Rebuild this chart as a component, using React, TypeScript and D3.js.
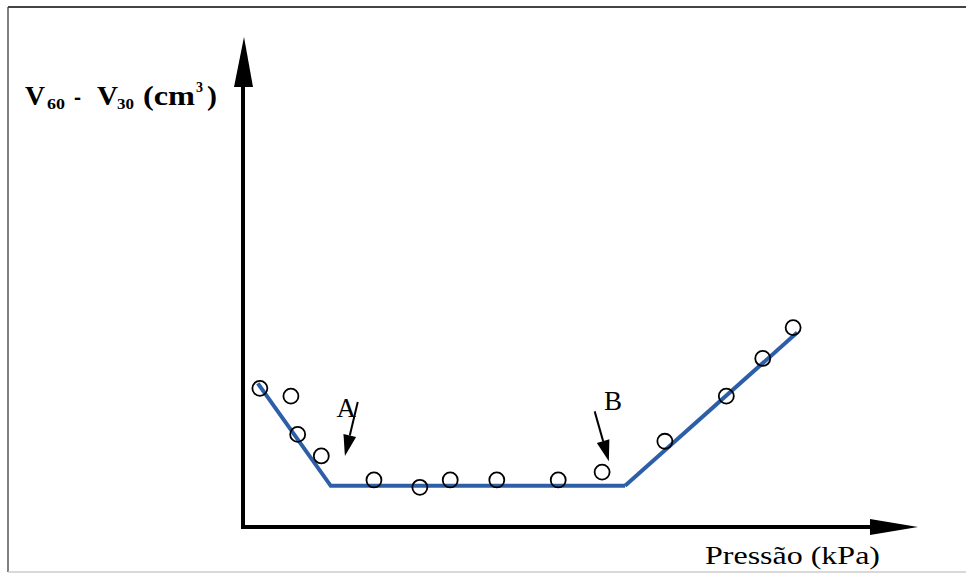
import React, { useEffect, useRef } from "react";
import * as d3 from "d3";

// measured points, pressure (arbitrary units) vs V60 - V30
const pressure = [2.5, 7.1, 8.1, 11.6, 19.4, 26.2, 30.7, 37.6, 46.7, 53.2, 62.5, 71.6, 77.0, 81.5];
const volumeDiff = [28.3, 26.7, 18.9, 14.5, 9.6, 8.1, 9.6, 9.6, 9.6, 11.2, 17.5, 26.7, 34.4, 40.7];

// fitted trend (blue): first two segments joined, third one separate
const fitX = [2.2, 13.0, 56.6, 82.1];
const fitY = [29.3, 8.4, 8.4, 39.7];

// annotations A and B
const markLabels = ["A", "B"];
const markText = [
  [15.3, 22.4],
  [54.8, 23.8],
];
const markArrowFrom = [
  [17.0, 25.5],
  [52.1, 23.6],
];
const markArrowTo = [
  [15.1, 14.5],
  [54.2, 13.4],
];

const SERIF = "Liberation Serif";

const App = () => {
  const ref = useRef<SVGSVGElement>(null);

  useEffect(() => {
    const svg = d3.select(ref.current);
    svg.selectAll("*").remove();

    const width = 966;
    const height = 575;
    const origin = { x: 243, y: 527 };
    const xEnd = 918;
    const yEnd = 37;

    const x = d3.scaleLinear().domain([0, 100]).range([origin.x, xEnd]);
    const y = d3.scaleLinear().domain([0, 100]).range([origin.y, yEnd]);

    svg.attr("width", width).attr("height", height);
    svg.append("rect").attr("width", width).attr("height", height).attr("fill", "#fff");

    // frame
    svg.append("line").attr("x1", 8).attr("x2", 8).attr("y1", 7).attr("y2", 572)
      .attr("stroke", "#555").attr("stroke-width", 1.5);
    svg.append("line").attr("x1", 8).attr("x2", width).attr("y1", 7).attr("y2", 7)
      .attr("stroke", "#444").attr("stroke-width", 2);
    svg.append("line").attr("x1", 8).attr("x2", width).attr("y1", 572).attr("y2", 572)
      .attr("stroke", "#ccc").attr("stroke-width", 1.5);

    // axes with arrow heads
    svg.append("line")
      .attr("x1", origin.x).attr("x2", origin.x).attr("y1", origin.y + 2).attr("y2", yEnd + 40)
      .attr("stroke", "#000").attr("stroke-width", 4);
    svg.append("path")
      .attr("d", `M${origin.x - 9},${yEnd + 50}L${origin.x + 1},${yEnd}L${origin.x + 10},${yEnd + 50}Z`)
      .attr("fill", "#000");
    svg.append("line")
      .attr("x1", origin.x - 2).attr("x2", xEnd - 40).attr("y1", origin.y).attr("y2", origin.y)
      .attr("stroke", "#000").attr("stroke-width", 4);
    svg.append("path")
      .attr("d", `M${xEnd - 48},${origin.y - 8}L${xEnd},${origin.y}L${xEnd - 48},${origin.y + 8}Z`)
      .attr("fill", "#000");

    // fitted lines
    const pts = fitX.map((v, i) => [v, fitY[i]] as [number, number]);
    const line = d3.line<[number, number]>().x((d) => x(d[0])).y((d) => y(d[1]));
    svg.append("path")
      .attr("d", line(pts.slice(0, 3)))
      .attr("fill", "none").attr("stroke", "#2c5fa8").attr("stroke-width", 4);
    svg.append("path")
      .attr("d", line(pts.slice(2, 4)))
      .attr("fill", "none").attr("stroke", "#2c5fa8").attr("stroke-width", 4);

    // data circles
    svg.selectAll(".pt")
      .data(pressure.map((p, i) => ({ p, v: volumeDiff[i] })))
      .enter()
      .append("circle")
      .attr("class", "pt")
      .attr("cx", (d) => x(d.p))
      .attr("cy", (d) => y(d.v))
      .attr("r", 7.5)
      .attr("fill", "none")
      .attr("stroke", "#000")
      .attr("stroke-width", 1.8);

    // annotations
    markLabels.forEach((lab, i) => {
      svg.append("text")
        .attr("x", x(markText[i][0])).attr("y", y(markText[i][1]))
        .attr("text-anchor", "middle")
        .style("font-family", SERIF)
        .style("font-size", "27px")
        .text(lab);
      const x1 = x(markArrowFrom[i][0]), y1 = y(markArrowFrom[i][1]);
      const x2 = x(markArrowTo[i][0]), y2 = y(markArrowTo[i][1]);
      const ang = Math.atan2(y2 - y1, x2 - x1);
      const hl = 21, hw = 6.5;
      const bx = x2 - hl * Math.cos(ang), by = y2 - hl * Math.sin(ang);
      svg.append("line")
        .attr("x1", x1).attr("y1", y1).attr("x2", bx).attr("y2", by)
        .attr("stroke", "#000").attr("stroke-width", 2);
      svg.append("path")
        .attr("d", `M${x2},${y2}L${bx + hw * Math.sin(ang)},${by - hw * Math.cos(ang)}L${bx - hw * Math.sin(ang)},${by + hw * Math.cos(ang)}Z`)
        .attr("fill", "#000");
    });

    // y axis title, laid out piece by piece: V60 - V30 (cm3)
    // [text, x, baseline, font size, width]
    const yTitle: [string, number, number, number, number][] = [
      ["V", 25, 105, 27, 20],
      ["60", 47, 109, 15, 18],
      ["-", 74, 105, 27, 7],
      ["V", 97, 105, 27, 21],
      ["30", 117, 109, 15, 17],
      ["(cm", 143, 105, 27, 52],
      ["3", 196, 92, 14, 7],
      [")", 207, 105, 27, 10],
    ];
    svg.selectAll(".ytitle")
      .data(yTitle)
      .enter()
      .append("text")
      .attr("class", "ytitle")
      .attr("x", (d) => d[1])
      .attr("y", (d) => d[2])
      .attr("textLength", (d) => d[4])
      .attr("lengthAdjust", "spacingAndGlyphs")
      .style("font-family", SERIF)
      .style("font-weight", "bold")
      .style("font-size", (d) => `${d[3]}px`)
      .text((d) => d[0]);

    svg.append("text")
      .attr("x", 705).attr("y", 564)
      .style("font-family", SERIF)
      .style("font-size", "26px")
      .attr("textLength", 175)
      .attr("lengthAdjust", "spacingAndGlyphs")
      .text("Pressão (kPa)");
  }, []);

  return <svg ref={ref} style={{ position: "absolute", left: 0, top: 0, display: "block" }}></svg>;
};

export default App;
